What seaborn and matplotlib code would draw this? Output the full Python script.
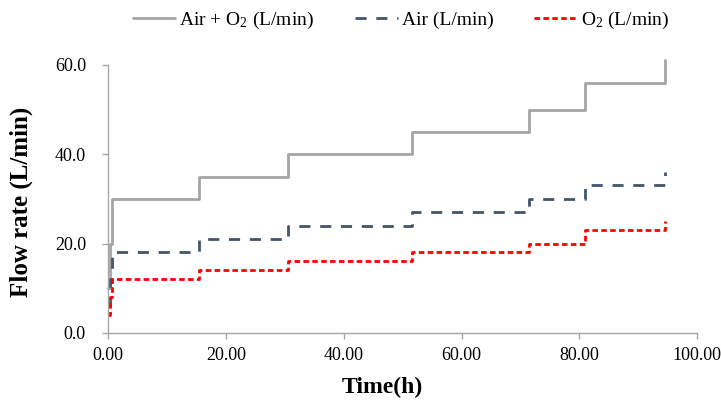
import numpy as np
import pandas as pd
import matplotlib
matplotlib.use("Agg")
import matplotlib.pyplot as plt
import seaborn as sns

# step times (h) and flow rates
time_h = [0.0, 0.3, 0.7, 15.5, 30.5, 51.5, 71.5, 81.0, 94.6]
air_o2 = [10, 20, 30, 35, 40, 45, 50, 56, 61]
air = [6, 12, 18, 21, 24, 27, 30, 33, 36]
o2 = [4, 8, 12, 14, 16, 18, 20, 23, 25]

sns.set_style("white")
plt.rcParams['font.family'] = ['Liberation Serif', 'DejaVu Serif']
plt.rcParams['mathtext.fontset'] = 'custom'
plt.rcParams['mathtext.rm'] = 'Liberation Serif'
plt.rcParams['mathtext.it'] = 'Liberation Serif:italic'
plt.rcParams['text.color'] = 'black'
plt.rcParams['axes.labelcolor'] = 'black'
plt.rcParams['xtick.color'] = 'black'
plt.rcParams['ytick.color'] = 'black'

df = pd.DataFrame({"t": time_h, "a": air_o2, "b": air, "c": o2})

fig = plt.figure(figsize=(7.21, 4.03), dpi=100)
ax = fig.add_axes([0.15, 0.174, 0.817, 0.665])

sns.lineplot(data=df, x="t", y="a", ax=ax, color="#A5A5A5", lw=2,
             drawstyle="steps-post", label="Air + O$_2$ (L/min)", clip_on=False)
sns.lineplot(data=df, x="t", y="b", ax=ax, color="#44546A", lw=2,
             drawstyle="steps-post", dashes=(4, 3.5), label="Air (L/min)", clip_on=False)
sns.lineplot(data=df, x="t", y="c", ax=ax, color="#FF0000", lw=2,
             drawstyle="steps-post", dashes=(2, 1.2), label="O$_2$ (L/min)", clip_on=False)

ax.set_xlim(0, 100)
ax.set_ylim(0, 60)
ax.set_xticks(np.arange(0, 101, 20))
ax.set_yticks(np.arange(0, 61, 20))
ax.xaxis.set_major_formatter(matplotlib.ticker.FormatStrFormatter("%.2f"))
ax.yaxis.set_major_formatter(matplotlib.ticker.FormatStrFormatter("%.1f"))
ax.tick_params(axis="both", direction="out", length=4, width=1, color="#A6A6A6",
               labelcolor="black", labelsize=13, bottom=True, left=True)
ax.tick_params(axis="x", pad=6)
ax.tick_params(axis="y", pad=12)

for s in ["top", "right"]:
    ax.spines[s].set_visible(False)
for s in ["left", "bottom"]:
    ax.spines[s].set_color("#A6A6A6")
    ax.spines[s].set_linewidth(1)

ax.set_xlabel("Time(h)", fontsize=17, fontweight="bold", color="black")
ax.xaxis.set_label_coords(0.466, -0.165)
ax.xaxis.label.set_va("top")
ax.set_ylabel("Flow rate (L/min)", fontsize=18, fontweight="bold", color="black")
ax.yaxis.set_label_coords(-0.128, 0.49)

leg = ax.legend(loc="center", bbox_to_anchor=(0.497, 1.165), ncol=3, frameon=False,
                fontsize=14, handlelength=2.2, columnspacing=2.1, handletextpad=0.2)
for t in leg.get_texts():
    t.set_color("black")

fig.savefig("out.png", dpi=100)
